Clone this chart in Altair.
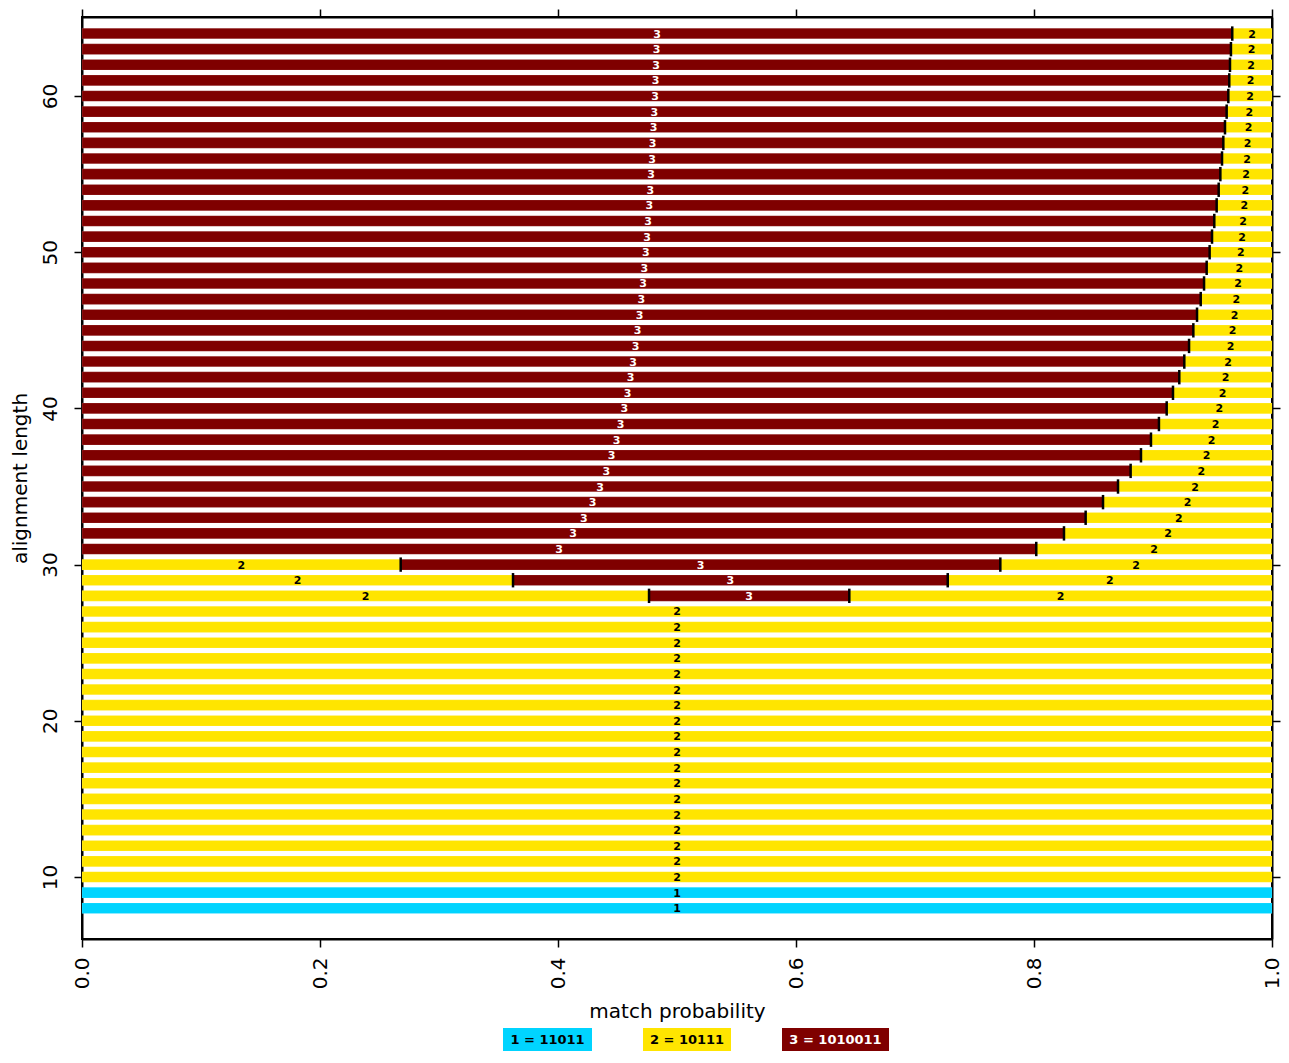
import altair as alt
import pandas as pd

# ---------------- data ----------------
categories = ["1", "2", "3"]
cat_colors = ["#00D4FF", "#FFE500", "#7F0000"]
legend_labels = ["1 = 11011", "2 = 10111", "3 = 1010011"]

lengths_one = [8, 9]
lengths_two = list(range(10, 28))

mid_lengths = [28, 29, 30]
mid_start = [0.4765, 0.3622, 0.2678]   # end of first "2" segment
mid_end = [0.6448, 0.7275, 0.7717]     # end of "3" segment

top_lengths = list(range(31, 65))
top_end = [0.8019, 0.8252, 0.8434, 0.8580, 0.8706, 0.8812, 0.8899, 0.8983,
           0.9050, 0.9115, 0.9168, 0.9221, 0.9263, 0.9303, 0.9339, 0.9370,
           0.9401, 0.9429, 0.9451, 0.9476, 0.9496, 0.9515, 0.9535, 0.9552,
           0.9566, 0.9580, 0.9591, 0.9605, 0.9619, 0.9633, 0.9641, 0.9647,
           0.9655, 0.9666]

x_ticks = [0.0, 0.2, 0.4, 0.6, 0.8, 1.0]
y_ticks = [10, 20, 30, 40, 50, 60]

# ---------------- build tables ----------------
segs = []
bounds = []
for L in lengths_one:
    segs.append((L, 0.0, 1.0, "1"))
for L in lengths_two:
    segs.append((L, 0.0, 1.0, "2"))
for L, a, b in zip(mid_lengths, mid_start, mid_end):
    segs.append((L, 0.0, a, "2"))
    segs.append((L, a, b, "3"))
    segs.append((L, b, 1.0, "2"))
    bounds.append((L, a))
    bounds.append((L, b))
for L, b in zip(top_lengths, top_end):
    segs.append((L, 0.0, b, "3"))
    segs.append((L, b, 1.0, "2"))
    bounds.append((L, b))

seg_df = pd.DataFrame(segs, columns=["length", "start", "end", "cat"])
bnd_df = pd.DataFrame(bounds, columns=["length", "b"])

FONT = "DejaVu Sans"
xscale = alt.Scale(domain=[0, 1], nice=False, zero=False)
yscale = alt.Scale(domain=[6.03, 65.06], nice=False, zero=False)

bars = alt.Chart(seg_df).transform_calculate(
    y0="datum.length - 0.34", y1="datum.length + 0.34"
).mark_rect(stroke="#ffffff", strokeOpacity=0.25, strokeWidth=0.5).encode(
    x=alt.X("start:Q", scale=xscale,
            axis=alt.Axis(orient="bottom", values=x_ticks, format=".1f",
                          title="match probability", labelAngle=270,
                          labelAlign="right", labelBaseline="middle",
                          labelPadding=10, titlePadding=13, grid=False)),
    x2="end:Q",
    y=alt.Y("y0:Q", scale=yscale,
            axis=alt.Axis(orient="left", values=y_ticks, format="d",
                          title="alignment length", labelAngle=270,
                          labelAlign="center", labelBaseline="bottom",
                          labelPadding=14, titlePadding=10, grid=False)),
    y2="y1:Q",
    color=alt.Color("cat:N", scale=alt.Scale(domain=categories, range=cat_colors),
                    legend=None),
)

ticks = alt.Chart(bnd_df).transform_calculate(
    y0="datum.length - 0.46", y1="datum.length + 0.46"
).mark_rule(color="black", strokeWidth=2.5).encode(
    x=alt.X("b:Q", scale=xscale,
            axis=alt.Axis(orient="top", values=x_ticks, labels=False, title=None,
                          grid=False)),
    y=alt.Y("y0:Q", scale=yscale,
            axis=alt.Axis(orient="right", values=y_ticks, labels=False, title=None,
                          grid=False)),
    y2="y1:Q",
)

labels = alt.Chart(seg_df).transform_calculate(
    mid="(datum.start + datum.end) / 2"
).mark_text(font=FONT, fontSize=11, fontWeight="bold", baseline="middle", dy=1).encode(
    x=alt.X("mid:Q", scale=xscale, axis=None),
    y=alt.Y("length:Q", scale=yscale, axis=None),
    text="cat:N",
    color=alt.condition(alt.datum.cat == "3", alt.value("white"), alt.value("black")),
)

# ---------------- legend (below plot) ----------------
leg_x = [(421, 510), (561, 649), (700, 807)]
leg_text_colors = ["black", "black", "white"]
legend_layers = []
one = pd.DataFrame({"k": [0]})
for (x0, x1), lab, col, tcol in zip(leg_x, legend_labels, cat_colors, leg_text_colors):
    legend_layers.append(
        alt.Chart(one).mark_rect(color=col).encode(
            x=alt.value(x0), x2=alt.value(x1), y=alt.value(1011), y2=alt.value(1034))
    )
    legend_layers.append(
        alt.Chart(one).mark_text(font=FONT, fontSize=13, fontWeight="bold",
                                 color=tcol, baseline="middle", align="center").encode(
            x=alt.value((x0 + x1) / 2), y=alt.value(1023), text=alt.value(lab))
    )

chart = alt.layer(bars, ticks, labels, *legend_layers).resolve_axis(
    x="independent", y="independent"
).resolve_scale(color="independent").properties(
    width=1190, height=922,
    autosize=alt.AutoSizeParams(type="none"),
    padding={"left": 74, "top": 9, "right": 9, "bottom": 112},
).configure_view(stroke="black", strokeWidth=2).configure_axis(
    labelFont=FONT, titleFont=FONT, labelFontSize=20, titleFontSize=20,
    titleFontWeight="normal", labelColor="black", titleColor="black",
    domainColor="black", domainWidth=2, tickColor="black", tickWidth=1.5,
    tickSize=8,
)

chart.save("out.html", embed_options={"renderer": "svg", "actions": False})
